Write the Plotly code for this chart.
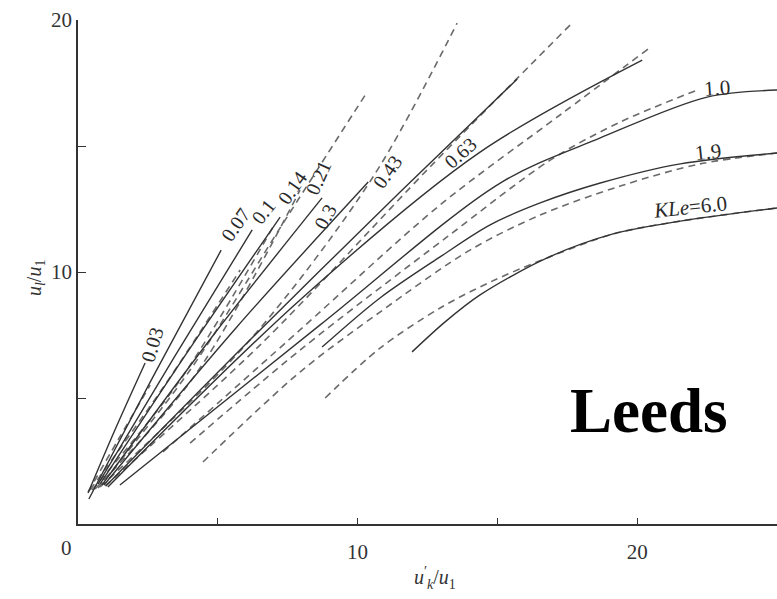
import plotly.graph_objects as go

# ---------------- data ----------------
# solid curves
S003_X = [0.36, 1.32, 2.40]
S003_Y = [1.23, 3.73, 6.39]
S007_X = [0.39, 2.58, 5.12]
S007_Y = [0.99, 5.63, 10.87]
S010_X = [0.72, 3.47, 6.23]
S010_Y = [1.59, 6.67, 11.67]
S014_X = [0.79, 4.01, 7.23]
S014_Y = [1.59, 6.98, 12.18]
S021_X = [0.86, 4.79, 8.73]
S021_Y = [1.55, 7.42, 12.94]
S030_X = [0.93, 5.65, 10.38]
S030_Y = [1.55, 7.78, 13.57]
S043_X = [1.00, 6.15, 11.52, 15.71]
S043_Y = [1.51, 7.30, 13.17, 17.66]
S063_X = [1.07, 7.94, 14.38, 20.18]
S063_Y = [1.47, 8.89, 14.76, 18.41]
S100_X = [1.50, 8.66, 15.10, 18.68, 22.50, 25.0]
S100_Y = [1.55, 7.90, 13.53, 15.32, 16.94, 17.22]
S190_X = [8.73, 10.80, 12.95, 14.74, 16.53, 18.68, 21.54, 25.0]
S190_Y = [7.02, 8.97, 10.60, 11.87, 12.74, 13.53, 14.29, 14.72]
S600_X = [11.95, 13.13, 14.38, 16.78, 19.14, 21.54, 25.0]
S600_Y = [6.83, 8.02, 9.09, 10.56, 11.51, 12.02, 12.54]

# dashed curves
D003_X = [0.36, 1.43, 2.58]
D003_Y = [1.27, 3.33, 5.51]
D007_X = [0.43, 3.11, 5.80]
D007_Y = [1.35, 5.52, 10.08]
D010_X = [0.50, 3.65, 6.98]
D010_Y = [1.35, 5.71, 11.79]
D014_X = [0.61, 4.19, 7.94]
D014_Y = [1.39, 5.91, 13.25]
D021_X = [0.72, 4.01, 7.23, 10.27]
D021_Y = [1.43, 6.11, 11.75, 17.02]
D030_X = [0.79, 6.15, 10.55, 13.56]
D030_Y = [1.47, 7.30, 13.77, 19.88]
D043_X = [0.97, 6.51, 12.59, 17.60]
D043_Y = [1.51, 7.10, 14.17, 19.80]
D063_X = [3.04, 7.94, 12.95, 17.24, 20.39]
D063_Y = [2.86, 7.70, 12.66, 16.23, 18.85]
D100_X = [4.01, 7.94, 13.20, 16.89, 19.39, 22.15]
D100_Y = [3.21, 6.90, 11.39, 14.44, 15.95, 17.22]
D190_X = [4.47, 7.94, 10.80, 14.02, 16.53, 19.39, 22.25, 25.0]
D190_Y = [2.46, 6.03, 8.41, 10.87, 12.26, 13.41, 14.29, 14.72]
D600_X = [8.84, 10.80, 12.95, 14.74, 16.78, 19.14, 21.54, 25.0]
D600_Y = [5.00, 6.98, 8.57, 9.60, 10.56, 11.51, 12.02, 12.54]

# curve labels
LABEL_TEXT = ["0.03", "0.07", "0.1", "0.14", "0.21", "0.3", "0.43", "0.63",
              "1.0", "1.9", "<i>KLe</i>=6.0"]
LABEL_X = [2.65, 5.62, 6.62, 7.66, 8.59, 8.84, 11.06, 13.67, 22.86, 22.54, 21.90]
LABEL_Y = [7.10, 11.87, 12.38, 13.33, 13.73, 12.18, 13.97, 14.72, 17.30, 14.76, 12.58]

X_TICKS = [10, 20]
X_TICKTEXT = ["10", "20"]
X_MINOR = [5, 15, 25]
Y_TICKS = [10, 20]
Y_TICKTEXT = ["10", "20"]
Y_MINOR = [5, 15]

# ---------------- figure ----------------
SERIF = "Liberation Serif"
solid = [(S003_X, S003_Y), (S007_X, S007_Y), (S010_X, S010_Y), (S014_X, S014_Y),
         (S021_X, S021_Y), (S030_X, S030_Y), (S043_X, S043_Y), (S063_X, S063_Y),
         (S100_X, S100_Y), (S190_X, S190_Y), (S600_X, S600_Y)]
dashed = [(D003_X, D003_Y), (D007_X, D007_Y), (D010_X, D010_Y), (D014_X, D014_Y),
          (D021_X, D021_Y), (D030_X, D030_Y), (D043_X, D043_Y), (D063_X, D063_Y),
          (D100_X, D100_Y), (D190_X, D190_Y), (D600_X, D600_Y)]

fig = go.Figure()
for xs, ys in dashed:
    fig.add_trace(go.Scatter(x=xs, y=ys, mode="lines", showlegend=False, hoverinfo="skip",
                             line=dict(color="#6a6a6a", width=1.6, dash="7px,5px",
                                       shape="spline", smoothing=0.9)))
for xs, ys in solid:
    fig.add_trace(go.Scatter(x=xs, y=ys, mode="lines", showlegend=False, hoverinfo="skip",
                             line=dict(color="#333333", width=1.4,
                                       shape="spline", smoothing=0.9)))

angles = [-73, -55, -52, -55, -66, -62, -55, -42, -4, -6, -6]
for t, x, y, a in zip(LABEL_TEXT, LABEL_X, LABEL_Y, angles):
    big = a > -10
    fig.add_annotation(x=x, y=y, text=t, showarrow=False, textangle=a,
                       xanchor="center", yanchor="middle",
                       font=dict(family=SERIF, size=21 if big else 20, color="#2a2a2a"))

# "0" at the corner
fig.add_annotation(x=0, y=0, text="0", showarrow=False, xshift=-12, yshift=-24,
                   xanchor="center", yanchor="middle",
                   font=dict(family=SERIF, size=21, color="#333"))

# axis titles
fig.add_annotation(xref="paper", yref="paper", x=-0.0615, y=0.488, textangle=-90,
                   xanchor="center", yanchor="middle",
                   text="<i>u</i><sub><i>l</i></sub>/<i>u</i><sub>1</sub>", showarrow=False,
                   font=dict(family=SERIF, size=20, color="#333"))
fig.add_annotation(xref="paper", yref="paper", x=0.511, y=-0.107,
                   xanchor="center", yanchor="middle",
                   text="<i>u</i><sup>′</sup><sub><i>k</i></sub>/<i>u</i><sub>1</sub>",
                   showarrow=False, font=dict(family=SERIF, size=20, color="#333"))

# watermark text
fig.add_annotation(xref="paper", yref="paper", x=0.817, y=0.224, text="<b>Leeds</b>",
                   xanchor="center", yanchor="middle",
                   showarrow=False, font=dict(family=SERIF, size=63, color="#000"))

fig.update_layout(
    width=777, height=599,
    margin=dict(l=78, r=0, t=20, b=75),
    paper_bgcolor="white", plot_bgcolor="white",
    xaxis=dict(range=[0, 25], showline=True, linecolor="#333", linewidth=1.8,
               ticks="inside", ticklen=6, tickwidth=1.4, tickcolor="#333",
               tickvals=X_TICKS, ticktext=X_TICKTEXT, ticklabelstandoff=8,
               minor=dict(tickvals=X_MINOR, ticks="inside", ticklen=6,
                          tickwidth=1.4, tickcolor="#333", showgrid=False),
               tickfont=dict(family=SERIF, size=21, color="#333"),
               showgrid=False, zeroline=False),
    yaxis=dict(range=[0, 20], showline=True, linecolor="#333", linewidth=1.8,
               ticks="inside", ticklen=8, tickwidth=1.4, tickcolor="#333",
               tickvals=Y_TICKS, ticktext=Y_TICKTEXT,
               minor=dict(tickvals=Y_MINOR, ticks="inside", ticklen=8,
                          tickwidth=1.4, tickcolor="#333", showgrid=False),
               tickfont=dict(family=SERIF, size=21, color="#333"),
               showgrid=False, zeroline=False),
)

fig.write_html("out.html")
